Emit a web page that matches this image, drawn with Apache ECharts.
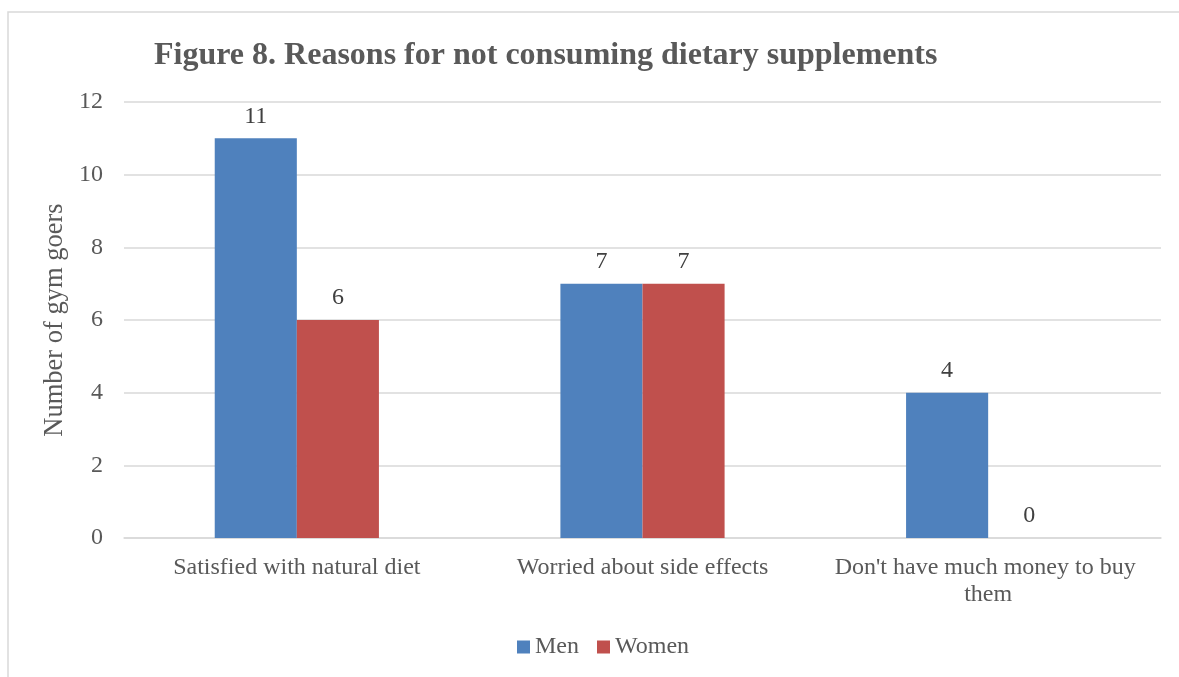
<!DOCTYPE html>
<html><head><meta charset="utf-8">
<script src="https://cdn.jsdelivr.net/npm/echarts@6/dist/echarts.min.js"></script>
<style>html,body{margin:0;padding:0;background:#fff}#c{width:1179px;height:677px}</style>
</head><body><div id="c"></div>
<script>
const categories = ["Satisfied with natural diet", "Worried about side effects", "Don't have much money to buy them"];
const menValues = [11, 7, 4];
const womenValues = [6, 7, 0];
const seriesNames = ["Men", "Women"];
const titleText = "Figure 8. Reasons for not consuming dietary supplements";
const yAxisName = "Number of gym goers";

const FONT = "'Liberation Serif','Times New Roman',serif";
const chart = echarts.init(document.getElementById('c'));
const labelStyle = {show:true, position:'top', distance:10, fontFamily:FONT, fontSize:24, color:'#404040'};
chart.setOption({
  animation:false,
  backgroundColor:'#fff',
  graphic:[{type:'rect', shape:{x:8,y:12,width:1400,height:900}, style:{fill:'none', stroke:'#d9d9d9', lineWidth:1.5}, silent:true}],
  title:{text:titleText, left:149, top:35, textStyle:{fontFamily:FONT, fontSize:32, fontWeight:'bold', color:'#595959'}},
  legend:{data:seriesNames, top:630, left:512, itemWidth:13, itemHeight:13, itemGap:18, icon:'rect',
    textStyle:{fontFamily:FONT, fontSize:24, color:'#595959'}},
  grid:{left:124, right:18, top:102, bottom:139, containLabel:false},
  xAxis:{type:'category', data:categories,
    axisLine:{lineStyle:{color:'#d9d9d9', width:1.5}}, axisTick:{show:false},
    axisLabel:{fontFamily:FONT, fontSize:24, color:'#595959', margin:16, width:320, overflow:'break', lineHeight:27, interval:0}},
  yAxis:{type:'value', min:0, max:12, interval:2,
    name:yAxisName, nameLocation:'middle', nameGap:54, nameRotate:90,
    nameTextStyle:{fontFamily:FONT, fontSize:26.5, color:'#595959'},
    axisLine:{show:false}, axisTick:{show:false},
    axisLabel:{fontFamily:FONT, fontSize:24, color:'#595959', margin:21},
    splitLine:{lineStyle:{color:'#d9d9d9', width:1.5}}},
  series:[
    {name:seriesNames[0], type:'bar', data:menValues, itemStyle:{color:'#4f81bd'}, barGap:'0%', barCategoryGap:'52.5%', label:labelStyle},
    {name:seriesNames[1], type:'bar', data:womenValues, itemStyle:{color:'#c0504d'}, label:labelStyle}
  ]
});
</script></body></html>
